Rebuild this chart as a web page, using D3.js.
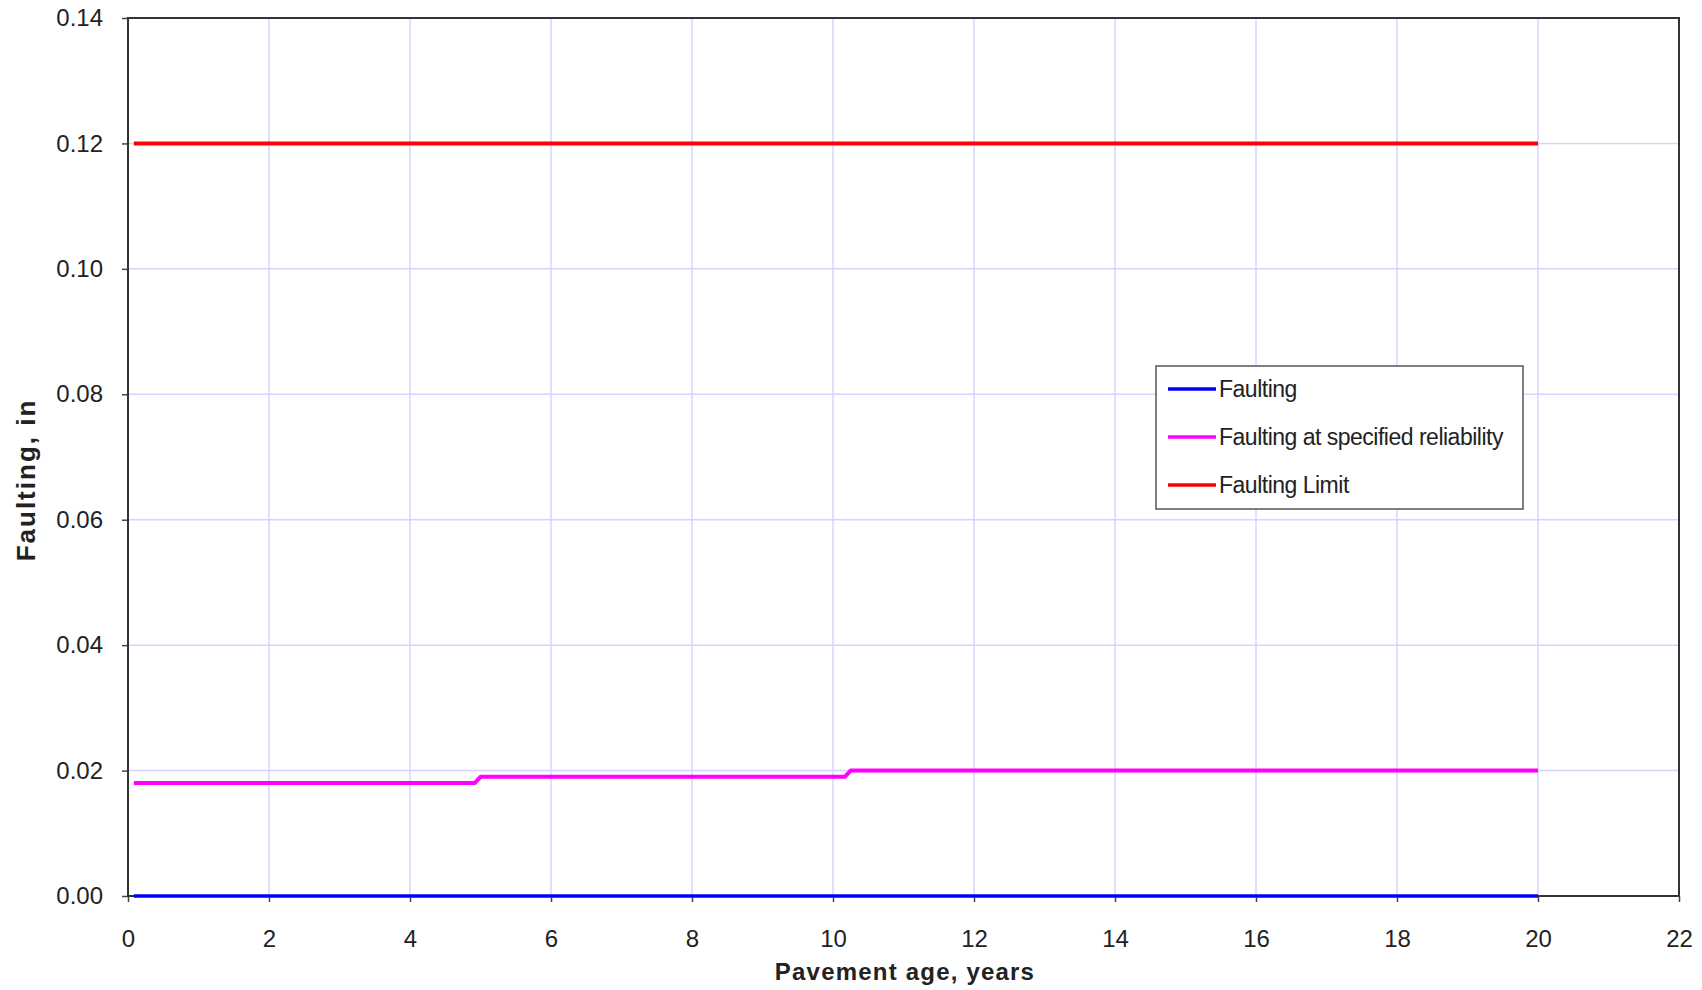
<!DOCTYPE html>
<html>
<head>
<meta charset="utf-8">
<script src="https://cdn.jsdelivr.net/npm/d3@7"></script>
<style>
  body { margin: 0; background: #fff; }
  text { font-family: "Liberation Sans", Arial, sans-serif; fill: #222; }
</style>
</head>
<body>
<script>
// values
var faulting = [[0.083, 0], [20, 0]];
var faultingReliab = [[0.083, 0.018], [4.917, 0.018], [5.0, 0.019], [10.167, 0.019], [10.25, 0.020], [20, 0.020]];
var faultingLimit = [[0.083, 0.12], [20, 0.12]];
var xTicks = [0, 2, 4, 6, 8, 10, 12, 14, 16, 18, 20, 22];
var yTicks = [0, 0.02, 0.04, 0.06, 0.08, 0.10, 0.12, 0.14];
var seriesNames = ['Faulting', 'Faulting at specified reliability', 'Faulting Limit'];
var seriesColors = ['#0000ff', '#ff00ff', '#ff0000'];

var W = 1702, H = 990;
var mLeft = 128, mRight = 1679, mTop = 18, mBottom = 896;

var svg = d3.select('body').append('svg')
  .attr('width', W)
  .attr('height', H);

var x = d3.scaleLinear().domain([0, 22]).range([mLeft, mRight]);
var y = d3.scaleLinear().domain([0, 0.14]).range([mBottom, mTop]);

// grid
svg.append('g')
  .selectAll('line')
  .data(xTicks.slice(1, -1))
  .enter()
  .append('line')
  .attr('x1', function (d) { return x(d); })
  .attr('x2', function (d) { return x(d); })
  .attr('y1', mTop)
  .attr('y2', mBottom)
  .attr('stroke', '#d4d4ff')
  .attr('stroke-width', 1.5);
svg.append('g')
  .selectAll('line')
  .data(yTicks.slice(1, -1))
  .enter()
  .append('line')
  .attr('x1', mLeft)
  .attr('x2', mRight)
  .attr('y1', function (d) { return y(d); })
  .attr('y2', function (d) { return y(d); })
  .attr('stroke', '#d4d4ff')
  .attr('stroke-width', 1.5);

// axes
var xAxis = svg.append('g')
  .attr('transform', 'translate(0,' + mBottom + ')')
  .call(d3.axisBottom(x).tickValues(xTicks).tickSize(6).tickPadding(28).tickFormat(d3.format('d')));
var yAxis = svg.append('g')
  .attr('transform', 'translate(' + mLeft + ',0)')
  .call(d3.axisLeft(y).tickValues(yTicks).tickSize(6).tickPadding(19).tickFormat(d3.format('.2f')));
[xAxis, yAxis].forEach(function (a) {
  a.select('.domain').remove();
  a.selectAll('line').attr('stroke', '#444').attr('stroke-width', 1.5);
  a.selectAll('text')
    .style('font-family', '"Liberation Sans", Arial, sans-serif')
    .style('font-size', '24px')
    .attr('fill', '#222');
});

// frame
svg.append('rect')
  .attr('x', mLeft)
  .attr('y', mTop)
  .attr('width', mRight - mLeft)
  .attr('height', mBottom - mTop)
  .attr('fill', 'none')
  .attr('stroke', '#333')
  .attr('stroke-width', 2);

// series
var line = d3.line()
  .x(function (d) { return x(d[0]); })
  .y(function (d) { return y(d[1]); });
var allSeries = [faulting, faultingReliab, faultingLimit];
var widths = [3.5, 4, 4];
// limit and reliability first, faulting on top
[2, 1, 0].forEach(function (i) {
  svg.append('path')
    .datum(allSeries[i])
    .attr('d', line)
    .attr('fill', 'none')
    .attr('stroke', seriesColors[i])
    .attr('stroke-width', widths[i])
    .attr('stroke-linejoin', 'round');
});

// legend
var lg = svg.append('g').attr('transform', 'translate(1156,366)');
lg.append('rect')
  .attr('width', 367)
  .attr('height', 143)
  .attr('fill', '#fff')
  .attr('stroke', '#555')
  .attr('stroke-width', 1.5);
seriesNames.forEach(function (n, i) {
  var yy = 23 + i * 48;
  lg.append('line')
    .attr('x1', 12)
    .attr('x2', 60)
    .attr('y1', yy)
    .attr('y2', yy)
    .attr('stroke', seriesColors[i])
    .attr('stroke-width', 3.5);
  lg.append('text')
    .attr('x', 63)
    .attr('y', yy + 8)
    .style('font-size', '23px')
    .style('letter-spacing', '-0.5px')
    .attr('fill', '#111')
    .text(n);
});

// titles
svg.append('text')
  .attr('x', 905)
  .attr('y', 980)
  .attr('text-anchor', 'middle')
  .style('font-size', '24px')
  .style('letter-spacing', '1.2px')
  .style('font-weight', 'bold')
  .text('Pavement age, years');
svg.append('text')
  .attr('transform', 'translate(35,480) rotate(-90)')
  .attr('text-anchor', 'middle')
  .style('font-size', '26px')
  .style('letter-spacing', '2px')
  .style('font-weight', 'bold')
  .text('Faulting, in');
</script>
</body>
</html>
